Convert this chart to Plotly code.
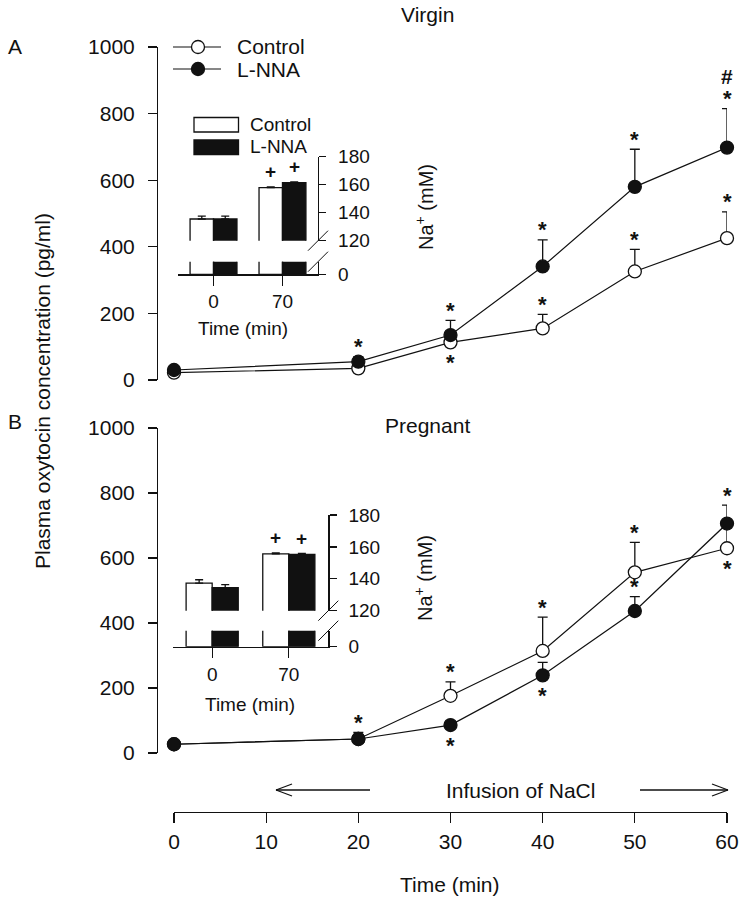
import plotly.graph_objects as go

# ---------------- data ----------------
time_min = [0, 20, 30, 40, 50, 60]

virgin_control = [22, 35, 113, 155, 326, 426]
virgin_control_err = [0, 0, 20, 42, 66, 79]
virgin_lnna = [30, 55, 135, 341, 580, 698]
virgin_lnna_err = [0, 15, 44, 80, 113, 117]

pregnant_control = [27, 43, 176, 314, 556, 630]
pregnant_control_err = [0, 0, 43, 104, 92, 75]
pregnant_lnna = [27, 43, 86, 239, 437, 706]
pregnant_lnna_err = [0, 20, 0, 40, 44, 57]

na_time_labels = ["0", "70"]
virgin_na_control = [135.5, 157.9]
virgin_na_control_err = [2.1, 0.6]
virgin_na_lnna = [135.5, 161.4]
virgin_na_lnna_err = [2.1, 0.6]
pregnant_na_control = [137.3, 155.6]
pregnant_na_control_err = [2.1, 0.6]
pregnant_na_lnna = [134.5, 155.3]
pregnant_na_lnna_err = [1.9, 0.7]

# significance marks: (time, series, side)
virgin_stars = [(20, "lnna", "above"), (30, "lnna", "above"), (30, "control", "below"),
                (40, "lnna", "above"), (40, "control", "above"),
                (50, "lnna", "above"), (50, "control", "above"),
                (60, "lnna", "above"), (60, "control", "above")]
virgin_hash = [(60, "lnna")]
pregnant_stars = [(20, "lnna", "above"), (30, "control", "above"), (30, "lnna", "below"),
                  (40, "control", "above"), (40, "lnna", "below"),
                  (50, "control", "above"), (50, "lnna", "above"),
                  (60, "lnna", "above"), (60, "control", "below")]

# ---------------- layout helpers ----------------
W, H = 742, 899
FONT = "Liberation Sans, Arial, sans-serif"
BLACK = "#111111"


def px(x):
    return x / W


def py(y):
    return 1 - y / H


fig = go.Figure()

# ---------------- main panels ----------------
panels = [
    ("x", "y", virgin_control, virgin_control_err, virgin_lnna, virgin_lnna_err),
    ("x2", "y2", pregnant_control, pregnant_control_err, pregnant_lnna, pregnant_lnna_err),
]
for xa, ya, c, ce, l, le in panels:
    fig.add_trace(go.Scatter(
        x=time_min, y=c, xaxis=xa, yaxis=ya, mode="lines+markers", cliponaxis=False,
        line=dict(color=BLACK, width=1.2),
        marker=dict(symbol="circle", size=13, color="white", line=dict(color=BLACK, width=1.3)),
        error_y=dict(type="data", array=ce, arrayminus=[0] * len(ce), symmetric=False,
                     color=BLACK, thickness=1.3, width=5),
        showlegend=False, name="Control"))
    fig.add_trace(go.Scatter(
        x=time_min, y=l, xaxis=xa, yaxis=ya, mode="lines+markers", cliponaxis=False,
        line=dict(color=BLACK, width=1.2),
        marker=dict(symbol="circle", size=13, color=BLACK, line=dict(color=BLACK, width=1.3)),
        error_y=dict(type="data", array=le, arrayminus=[0] * len(le), symmetric=False,
                     color=BLACK, thickness=1.3, width=5),
        showlegend=False, name="L-NNA"))

# ---------------- insets (broken axis: lower + upper segment) ----------------
BW = 0.34
insets = [
    ("x3", "y3", "x4", "y4", virgin_na_control, virgin_na_control_err, virgin_na_lnna, virgin_na_lnna_err),
    ("x5", "y5", "x6", "y6", pregnant_na_control, pregnant_na_control_err, pregnant_na_lnna, pregnant_na_lnna_err),
]
for xl, yl, xu, yu, c, ce, l, le in insets:
    for xa, ya, with_err in [(xl, yl, False), (xu, yu, True)]:
        fig.add_trace(go.Bar(
            x=[0, 1], y=c, xaxis=xa, yaxis=ya, width=BW, offset=-BW,
            marker=dict(color="white", line=dict(color=BLACK, width=1.3)),
            error_y=dict(type="data", array=ce, arrayminus=[0, 0], symmetric=False,
                         color=BLACK, thickness=1.3, width=4, visible=with_err),
            showlegend=False, name="Control"))
        fig.add_trace(go.Bar(
            x=[0, 1], y=l, xaxis=xa, yaxis=ya, width=BW, offset=0,
            marker=dict(color=BLACK, line=dict(color=BLACK, width=1.3)),
            error_y=dict(type="data", array=le, arrayminus=[0, 0], symmetric=False,
                         color=BLACK, thickness=1.3, width=4, visible=with_err),
            showlegend=False, name="L-NNA"))

# ---------------- axes ----------------
tick_font = dict(family=FONT, size=21, color=BLACK)
small_font = dict(family=FONT, size=19, color=BLACK)
ax_common = dict(showgrid=False, zeroline=False, showline=True, linecolor=BLACK, linewidth=1.3,
                 ticks="outside", tickcolor=BLACK, tickwidth=1.3, automargin=False)

main_x_dom = [px(174), px(727)]
layout_axes = dict(
    xaxis=dict(domain=main_x_dom, range=[0, 60], visible=False, anchor="y", automargin=False),
    yaxis=dict(domain=[py(380), py(47)], range=[0, 1000], anchor="free", position=px(157),
               tickvals=[0, 200, 400, 600, 800, 1000], ticklen=9, tickfont=tick_font,
               ticklabelstandoff=9, **ax_common),
    xaxis2=dict(domain=main_x_dom, range=[0, 60], anchor="free", position=py(812),
                tickvals=[0, 10, 20, 30, 40, 50, 60], ticklen=10, tickfont=tick_font,
                ticklabelstandoff=0, **ax_common),
    yaxis2=dict(domain=[py(753), py(428)], range=[0, 1000], anchor="free", position=px(157),
                tickvals=[0, 200, 400, 600, 800, 1000], ticklen=9, tickfont=tick_font,
                ticklabelstandoff=9, **ax_common),
)

inset_geom = [
    # x-domain px, lower seg (bottom, top) px, upper seg (bottom, top) px
    ("3", "4", (178, 318), (274.3, 261.7), (240.7, 156.7)),
    ("5", "6", (172.7, 328.3), (646.7, 630.7), (610.7, 515)),
]
xr = [-0.515, 1.515]
for lo, up, (x0, x1), (lb, lt), (ub, ut) in inset_geom:
    layout_axes["xaxis" + lo] = dict(domain=[px(x0), px(x1)], range=xr, anchor="y" + lo,
                                     tickvals=[0, 1], ticktext=na_time_labels, ticklen=10,
                                     tickfont=small_font, ticklabelstandoff=0, **ax_common)
    layout_axes["yaxis" + lo] = dict(domain=[py(lb), py(lt)], range=[0, 10], anchor="x" + lo,
                                     side="right", tickvals=[0], ticklen=7, tickfont=small_font,
                                     ticklabelstandoff=8, **ax_common)
    layout_axes["xaxis" + up] = dict(domain=[px(x0), px(x1)], range=xr, anchor="y" + up,
                                     visible=False, automargin=False)
    layout_axes["yaxis" + up] = dict(domain=[py(ub), py(ut)], range=[120, 180], anchor="x" + up,
                                     side="right", tickvals=[120, 140, 160, 180], ticklen=7,
                                     tickfont=small_font, ticklabelstandoff=8, **ax_common)

# ---------------- annotations ----------------
ann = []


def text(x, y, t, size=21, angle=0, xanchor="center", bold=False):
    ann.append(dict(x=px(x), y=py(y), xref="paper", yref="paper", text=("<b>%s</b>" % t) if bold else t,
                    showarrow=False, xanchor=xanchor, yanchor="middle", textangle=angle,
                    font=dict(family=FONT, size=size, color=BLACK)))


text(15, 47, "A")
text(15, 422, "B")
text(428, 15, "Virgin")
text(427, 425, "Pregnant")
text(42, 391, "Plasma oxytocin concentration (pg/ml)", angle=-90)
text(450, 884, "Time (min)")
text(520, 790, "Infusion of NaCl")
text(243, 328, "Time (min)", size=19)
text(250, 704, "Time (min)", size=19)
text(424, 207, "Na<sup>+</sup> (mM)", size=20, angle=-90)
text(423, 578, "Na<sup>+</sup> (mM)", size=20, angle=-90)
# main legend text
text(235, 47, "Control", xanchor="left")
text(235, 69, "L-NNA", xanchor="left")
# inset legend text
text(248, 124.5, "Control", size=19, xanchor="left")
text(248, 147, "L-NNA", size=19, xanchor="left")

STAR_GAP = 15
STAR_CORR = -5  # asterisk glyph sits high in its line box


def add_marks(xa, ya, stars, hashes, c, ce, l, le):
    for t, s, side in stars:
        i = time_min.index(t)
        mean, err = (c[i], ce[i]) if s == "control" else (l[i], le[i])
        if side == "above":
            yv, sh = mean + err, STAR_GAP + STAR_CORR
        else:
            yv, sh = mean, -STAR_GAP + STAR_CORR
        ann.append(dict(x=t, y=yv, xref=xa, yref=ya, text="<b>*</b>", showarrow=False,
                        yshift=sh, xanchor="center", yanchor="middle",
                        font=dict(family=FONT, size=22, color=BLACK)))
    for t, s in hashes:
        i = time_min.index(t)
        mean, err = (c[i], ce[i]) if s == "control" else (l[i], le[i])
        ann.append(dict(x=t, y=mean + err, xref=xa, yref=ya, text="<b>#</b>", showarrow=False,
                        yshift=32, xanchor="center", yanchor="middle",
                        font=dict(family=FONT, size=21, color=BLACK)))


add_marks("x", "y", virgin_stars, virgin_hash, virgin_control, virgin_control_err,
          virgin_lnna, virgin_lnna_err)
add_marks("x2", "y2", pregnant_stars, [], pregnant_control, pregnant_control_err,
          pregnant_lnna, pregnant_lnna_err)

# "+" marks above the 70-min bars
for xu, yu, c, ce, l, le in [("x4", "y4", virgin_na_control, virgin_na_control_err, virgin_na_lnna, virgin_na_lnna_err),
                             ("x6", "y6", pregnant_na_control, pregnant_na_control_err, pregnant_na_lnna, pregnant_na_lnna_err)]:
    for xc, v, e in [(1 - BW / 2, c[1], ce[1]), (1 + BW / 2, l[1], le[1])]:
        ann.append(dict(x=xc, y=v + e, xref=xu, yref=yu, text="<b>+</b>", showarrow=False,
                        yshift=15, xanchor="center", yanchor="middle",
                        font=dict(family=FONT, size=19, color=BLACK)))

# ---------------- shapes: legends, breaks, arrows ----------------
shapes = []
line_style = dict(color=BLACK, width=1.3)


def seg(x0, y0, x1, y1, w=1.3):
    shapes.append(dict(type="line", xref="paper", yref="paper", x0=px(x0), y0=py(y0),
                       x1=px(x1), y1=py(y1), line=dict(color=BLACK, width=w)))


# main legend
for yy, fill in [(47, "white"), (69, BLACK)]:
    seg(173, yy, 221, yy, 1.2)
    shapes.append(dict(type="circle", xref="paper", yref="paper", xsizemode="pixel", ysizemode="pixel",
                       xanchor=px(198), yanchor=py(yy), x0=-6.5, x1=6.5, y0=-6.5, y1=6.5,
                       fillcolor=fill, line=line_style))
# inset legend boxes
for y0, y1, fill in [(117.5, 132, "white"), (140, 154.5, BLACK)]:
    shapes.append(dict(type="rect", xref="paper", yref="paper", x0=px(194), x1=px(238.5),
                       y0=py(y1), y1=py(y0), fillcolor=fill, line=line_style))
# axis break slashes
for lo, up, (x0, x1), (lb, lt), (ub, ut) in inset_geom:
    for yc in (ub, lt):
        seg(x1 - 10, yc + 10, x1 + 10, yc - 10, 1.0)
# infusion arrows
AY = 790
seg(370, AY, 276, AY, 1.5)
seg(276, AY, 292, AY - 6, 1.3)
seg(276, AY, 292, AY + 6, 1.3)
seg(640, AY, 728, AY, 1.5)
seg(728, AY, 712, AY - 6, 1.3)
seg(728, AY, 712, AY + 6, 1.3)

fig.update_layout(
    template="none",
    width=W, height=H, autosize=False,
    margin=dict(l=0, r=0, t=0, b=0, pad=0),
    paper_bgcolor="white", plot_bgcolor="rgba(0,0,0,0)",
    font=dict(family=FONT, size=21, color=BLACK),
    showlegend=False, hovermode=False,
    annotations=ann, shapes=shapes,
    **layout_axes,
)

fig.write_html("out.html", config={"displayModeBar": False, "staticPlot": True},
               post_script="document.body.style.margin='0px';document.body.style.overflow='hidden';")
